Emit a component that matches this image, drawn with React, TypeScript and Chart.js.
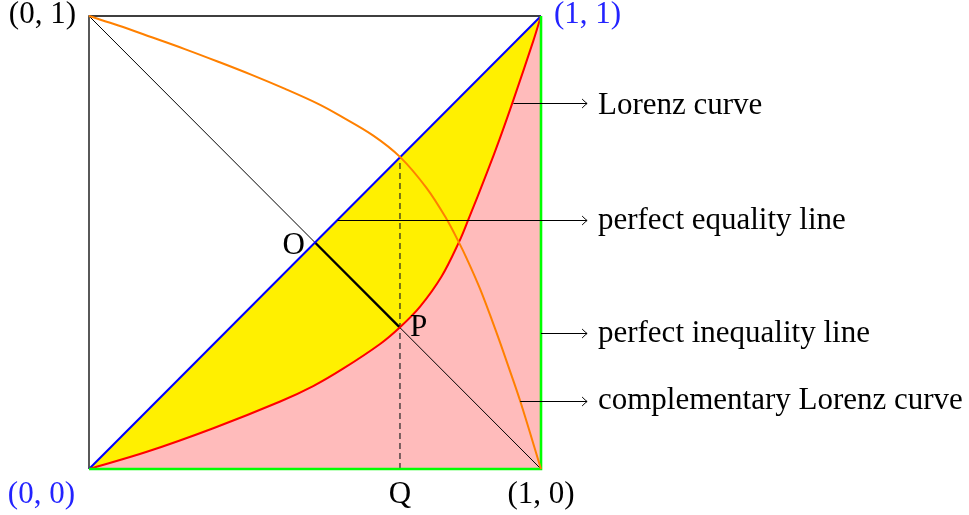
import React, { useEffect, useRef } from "react";
import { Chart, registerables } from "chart.js";

Chart.register(...registerables);

// ---- data ----
// Lorenz curve (red)
const lorenzX = [0, 0.128, 0.275, 0.423, 0.496, 0.563, 0.644, 0.688, 0.732, 0.78, 0.819, 0.839, 0.88, 0.909, 0.939, 0.983, 1];
const lorenzY = [0, 0.038, 0.09, 0.149, 0.183, 0.222, 0.276, 0.313, 0.358, 0.425, 0.502, 0.55, 0.653, 0.73, 0.815, 0.945, 1];
// complementary Lorenz curve (orange)
const complX = [0, 0.065, 0.139, 0.212, 0.286, 0.36, 0.434, 0.507, 0.555, 0.629, 0.688, 0.747, 0.791, 0.817, 0.836, 0.865, 0.902, 0.928, 0.954, 1];
const complY = [1, 0.979, 0.953, 0.927, 0.899, 0.87, 0.839, 0.806, 0.78, 0.736, 0.689, 0.62, 0.552, 0.503, 0.464, 0.398, 0.3, 0.226, 0.15, 0];
// perfect equality line (blue)
const equalityX = [0, 1];
const equalityY = [0, 1];
// perfect inequality line (green)
const inequalityX = [0, 1, 1];
const inequalityY = [0, 0, 1];
// square border (top and left edges)
const borderX = [1, 0, 0];
const borderY = [1, 1, 0];
// anti-diagonal
const antiX = [0, 1];
const antiY = [1, 0];
// O, P, Q
const pointO = [0.5, 0.5];
const pointP = [0.688, 0.312];
const qX = 0.688;
const qTop = 0.688;

// arrow annotations
const arrowLabels = ["Lorenz curve", "perfect equality line", "perfect inequality line", "complementary Lorenz curve"];
const arrowFromX = [0.939, 0.55, 1, 0.954];
const arrowY = [0.809, 0.55, 0.3, 0.151];
const arrowToX = 1.102;
const arrowTextX = 1.126;

// point labels
const pointLabels = ["(0, 1)", "(1, 1)", "(0, 0)", "(1, 0)", "Q", "O", "P"];
const pointLabelX = [0, 1, 0, 1, qX, pointO[0], pointP[0]];
const pointLabelY = [1, 1, 0, 0, 0, pointO[1], pointP[1]];

const zip = (xs: number[], ys: number[]) => xs.map((x, i) => ({ x, y: ys[i] }));

const FONT = '31px "Liberation Serif", "DejaVu Serif", serif';

const annotPlugin = {
  id: "annot",
  afterDatasetsDraw(chart: any) {
    const ctx = chart.ctx as CanvasRenderingContext2D;
    const sx = chart.scales.x;
    const sy = chart.scales.y;
    ctx.save();
    ctx.font = FONT;
    ctx.textBaseline = "alphabetic";
    arrowLabels.forEach((label, i) => {
      const x0 = sx.getPixelForValue(arrowFromX[i]);
      const x1 = sx.getPixelForValue(arrowToX);
      const tx = sx.getPixelForValue(arrowTextX);
      const y = Math.round(sy.getPixelForValue(arrowY[i])) + 0.5;
      ctx.strokeStyle = "#000";
      ctx.lineWidth = 1;
      ctx.beginPath();
      ctx.moveTo(x0, y);
      ctx.lineTo(x1, y);
      ctx.stroke();
      ctx.beginPath();
      ctx.moveTo(x1 - 5, y - 4.5);
      ctx.quadraticCurveTo(x1 - 1.5, y - 1, x1, y);
      ctx.quadraticCurveTo(x1 - 1.5, y + 1, x1 - 5, y + 4.5);
      ctx.stroke();
      const m = ctx.measureText(label);
      const base = y + (m.actualBoundingBoxAscent - m.actualBoundingBoxDescent) / 2;
      ctx.fillStyle = "#000";
      ctx.textAlign = "left";
      ctx.fillText(label, tx, base);
    });
    const place: Record<string, { dx: number; dy: number; align: CanvasTextAlign; color: string }> = {
      "(0, 1)": { dx: -13, dy: 6.5, align: "right", color: "#000" },
      "(1, 1)": { dx: 13, dy: 6.5, align: "left", color: "#2323ff" },
      "(0, 0)": { dx: -14, dy: 33.5, align: "right", color: "#2323ff" },
      "(1, 0)": { dx: 0, dy: 33.5, align: "center", color: "#000" },
      Q: { dx: 0, dy: 33.5, align: "center", color: "#000" },
      O: { dx: -10, dy: 11, align: "right", color: "#000" },
      P: { dx: 10, dy: 8.5, align: "left", color: "#000" },
    };
    pointLabels.forEach((t, i) => {
      const p = place[t];
      const px = sx.getPixelForValue(pointLabelX[i]);
      const py = sy.getPixelForValue(pointLabelY[i]);
      ctx.fillStyle = p.color;
      ctx.textAlign = p.align;
      ctx.fillText(t, px + p.dx, py + p.dy);
    });
    ctx.restore();
  },
};

export default function App() {
  const ref = useRef<HTMLCanvasElement>(null);
  useEffect(() => {
    if (!ref.current) return;
    const common = { pointRadius: 0, pointHoverRadius: 0, clip: false as any, tension: 0 };
    const chart = new Chart(ref.current, {
      type: "line",
      data: {
        datasets: [
          // 0 complementary Lorenz curve
          { ...common, data: zip(complX, complY), borderColor: "#ff8000", borderWidth: 2, tension: 0.35, fill: false },
          // 1 perfect inequality line
          { ...common, data: zip(inequalityX, inequalityY), borderColor: "#00ff00", borderWidth: 2.6, fill: false },
          // 2 Lorenz curve
          { ...common, data: zip(lorenzX, lorenzY), borderColor: "#ff0000", borderWidth: 2, tension: 0.35, fill: "origin", backgroundColor: "#ffbbbb" },
          // 3 perfect equality line
          { ...common, data: zip(equalityX, equalityY), borderColor: "#0000ff", borderWidth: 2, fill: 2, backgroundColor: "#fff000" },
          // 4 O-P thick segment
          { ...common, data: zip([pointO[0], pointP[0]], [pointO[1], pointP[1]]), borderColor: "#000", borderWidth: 2.4, fill: false },
          // 5 dashed Q line
          { ...common, data: zip([qX, qX], [0, qTop]), borderColor: "#222", borderWidth: 1.2, borderDash: [6, 4], fill: false },
          // 6 anti-diagonal
          { ...common, data: zip(antiX, antiY), borderColor: "#000", borderWidth: 1, fill: false },
          // 7 square border
          { ...common, data: zip(borderX, borderY), borderColor: "#000", borderWidth: 1.3, fill: false },
        ] as any,
      },
      options: {
        animation: false,
        responsive: false,
        maintainAspectRatio: false,
        layout: { padding: { left: 89, top: 16, right: 428, bottom: 46 } },
        scales: {
          x: { type: "linear", min: 0, max: 1, display: false },
          y: { type: "linear", min: 0, max: 1, display: false },
        },
        plugins: {
          legend: { display: false },
          tooltip: { enabled: false },
          filler: { drawTime: "beforeDatasetsDraw" },
        } as any,
        events: [],
      },
      plugins: [annotPlugin],
    });
    return () => chart.destroy();
  }, []);
  return (
    <div style={{ position: "absolute", left: 0, top: 0, width: 969, height: 515, background: "#fff" }}>
      <canvas ref={ref} width={969} height={515} style={{ display: "block", width: 969, height: 515 }} />
    </div>
  );
}
